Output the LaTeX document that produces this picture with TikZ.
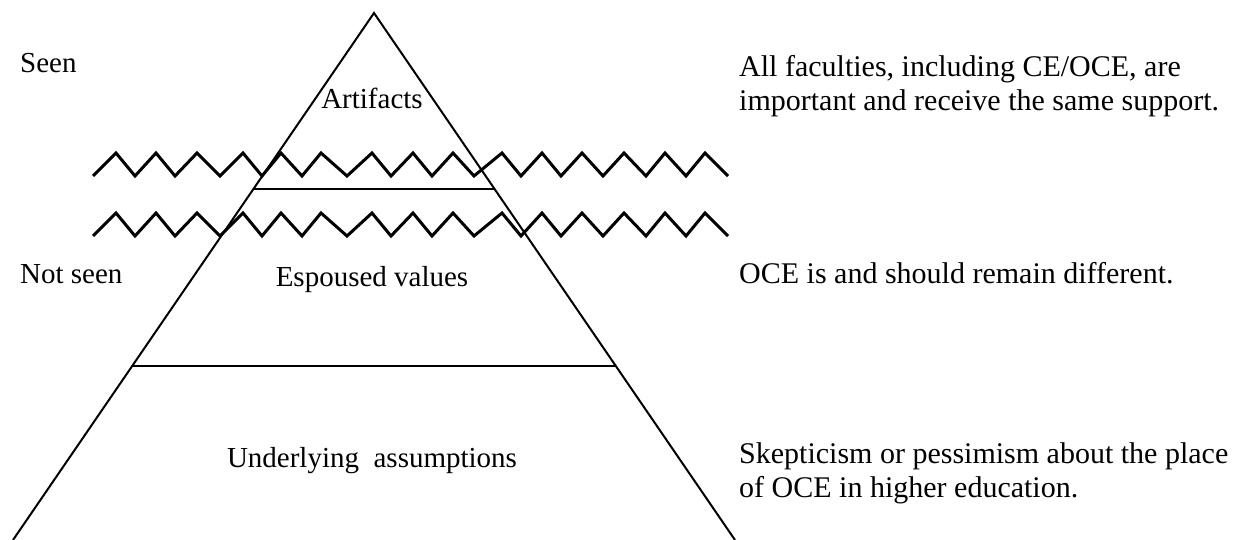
\documentclass[tikz,border=0pt]{standalone}
\usepackage{fontspec}
\setmainfont{Liberation Serif}
\begin{document}
\begin{tikzpicture}[x=1pt,y=-1pt,
  lbl/.style={inner sep=0pt, font=\fontsize{29}{34}\selectfont},
  rlbl/.style={inner sep=0pt, anchor=base west, font=\fontsize{30}{34}\selectfont},
  zz/.style={line width=3pt, line join=miter, line cap=butt},
  edge/.style={line width=2pt}]
\useasboundingbox (0,0) rectangle (1239,540);
% triangle
\coordinate (apex) at (374,13);
\coordinate (bl) at (13,540);
\coordinate (br) at (735,540);
\draw[edge] (bl) -- (apex) -- (br);
\coordinate (l1a) at (254,189); \coordinate (l1b) at (495,189);
\coordinate (l2a) at (133,366); \coordinate (l2b) at (615,366);
\draw[edge] (l1a) -- (l1b);
\draw[edge] (l2a) -- (l2b);
% zigzags
\foreach \s in {0,60}{
\begin{scope}[yshift=-\s pt]
\draw[zz] (93,176) -- (116,153) -- (135,176) -- (156,153) -- (175,176) -- (197,153)
 -- (220,176) -- (243,153) -- (262,176) -- (281,153) -- (302,176) -- (321,153)
 -- (347,176) -- (372,153) -- (391,176) -- (413,153) -- (432,176) -- (453,153)
 -- (474,176) -- (502,153) -- (521,176) -- (542,153) -- (561,176) -- (582,153)
 -- (603,176) -- (624,153) -- (646,176) -- (665,153) -- (686,176) -- (705,153)
 -- (728,176);
\end{scope}}
% labels
\node[lbl, anchor=base west] (seen) at (20,73) {Seen};
\node[lbl, anchor=base west] (notseen) at (20,283) {Not seen};
\node[lbl, anchor=base] (art) at (372,109) {Artifacts};
\node[lbl, anchor=base] (esp) at (372,286) {Espoused values};
\node[lbl, anchor=base] (und) at (372,467) {Underlying\ \ assumptions};
\node[rlbl] (r1a) at (739,77) {All faculties, including CE/OCE, are};
\node[rlbl] (r1b) at (739,111) {important and receive the same support.};
\node[rlbl] (r2) at (739,283) {OCE is and should remain different.};
\node[rlbl] (r3a) at (739,463) {Skepticism or pessimism about the place};
\node[rlbl] (r3b) at (739,497) {of OCE in higher education.};
\end{tikzpicture}
\end{document}
